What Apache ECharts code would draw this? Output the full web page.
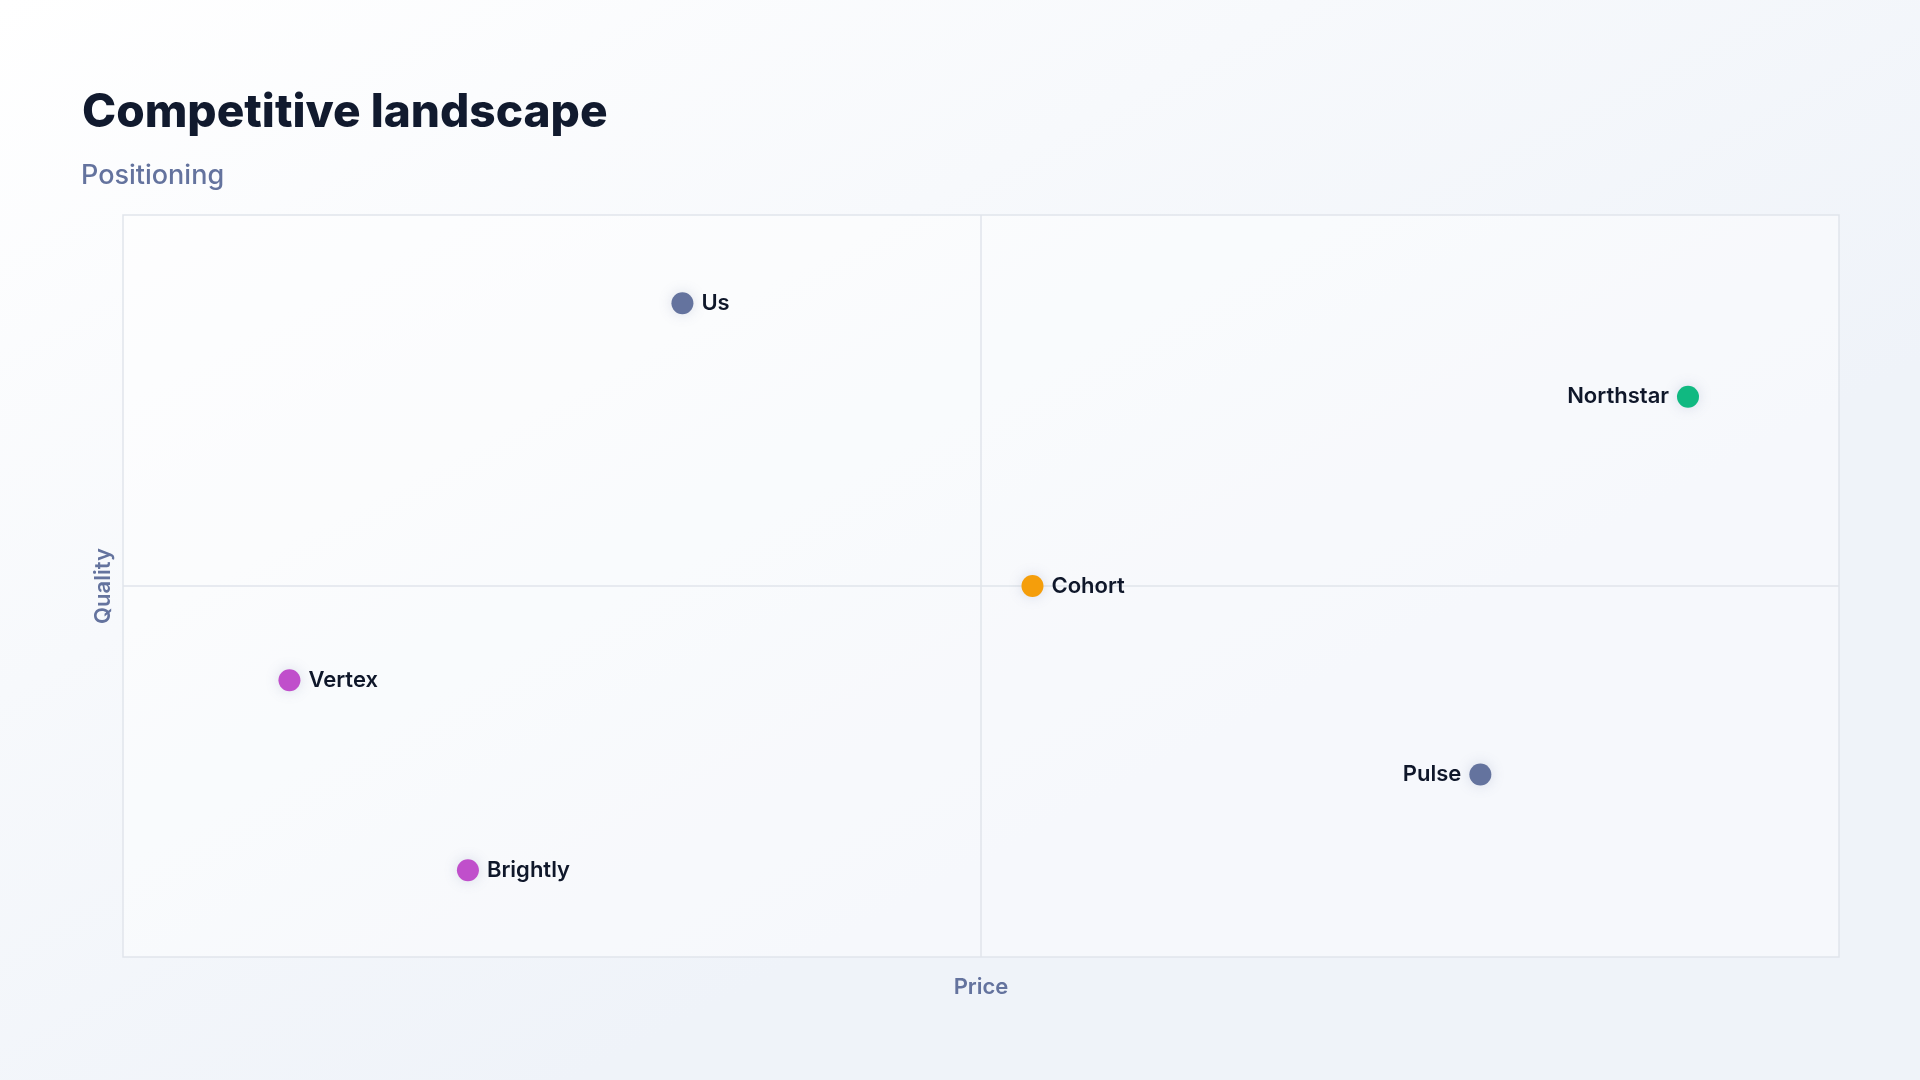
<!DOCTYPE html>
<html>
<head>
<meta charset="utf-8">
<script src="https://cdn.jsdelivr.net/npm/echarts@6/dist/echarts.min.js"></script>
<style>
html,body{margin:0;padding:0;width:1920px;height:1080px;overflow:hidden;}
#chart{width:1920px;height:1080px;}
</style>
</head>
<body>
<div id="chart"></div>
<script>
// ---- data ----
const names = ["Us", "Northstar", "Cohort", "Vertex", "Brightly", "Pulse"];
const price = [32.6, 91.2, 53.0, 9.7, 20.1, 79.1];
const quality = [88.1, 75.5, 50.0, 37.3, 11.7, 24.6];
const groups = ["us", "leader", "mid", "value", "value", "premium"];

// ---- styles ----
const groupColors = { us: "#64739e", leader: "#10b981", mid: "#f59e0b", value: "#c04fcb", premium: "#64739e" };
const leftLabelled = ["Northstar", "Pulse"];
const FONT = "Inter, 'Noto Sans', sans-serif";

const chart = echarts.init(document.getElementById('chart'));

const points = names.map((n, i) => ({
  name: n,
  value: [price[i], quality[i]],
  itemStyle: { color: groupColors[groups[i]] },
  label: { position: leftLabelled.includes(n) ? 'left' : 'right' }
}));

chart.setOption({
  backgroundColor: {
    type: 'linear', x: 0, y: 0, x2: 0.3, y2: 1,
    colorStops: [{ offset: 0, color: '#ffffff' }, { offset: 1, color: '#eff3f9' }]
  },
  title: [
    { text: 'Competitive landscape', left: 77, top: 85,
      textStyle: { fontFamily: FONT, fontSize: 46, fontWeight: 800, color: '#111a2e' } },
    { text: 'Positioning', left: 76, top: 157,
      textStyle: { fontFamily: FONT, fontSize: 27, fontWeight: 500, color: '#64739e' } }
  ],
  grid: {
    left: 123, right: 81, top: 215, bottom: 123,
    show: true, backgroundColor: 'rgba(255,255,255,0.45)',
    borderColor: '#e1e5eb', borderWidth: 1.5
  },
  xAxis: {
    type: 'value', min: 0, max: 100,
    name: 'Price', nameLocation: 'middle', nameGap: 19,
    nameTextStyle: { fontFamily: FONT, fontSize: 22, fontWeight: 600, color: '#64739e' },
    axisLine: { show: false }, axisTick: { show: false }, axisLabel: { show: false }, splitLine: { show: false }
  },
  yAxis: {
    type: 'value', min: 0, max: 100,
    name: 'Quality', nameLocation: 'middle', nameGap: 9,
    nameTextStyle: { fontFamily: FONT, fontSize: 22, fontWeight: 600, color: '#64739e' },
    axisLine: { show: false }, axisTick: { show: false }, axisLabel: { show: false }, splitLine: { show: false }
  },
  series: [{
    type: 'scatter',
    data: [],
    silent: true,
    z: 1,
    markLine: {
      silent: true, symbol: 'none', label: { show: false }, z: 1,
      lineStyle: { color: '#e1e5eb', width: 1.5, type: 'solid' },
      data: [{ xAxis: 50 }, { yAxis: 50 }]
    }
  }, {
    type: 'scatter',
    symbolSize: 22,
    data: points,
    itemStyle: { opacity: 1, shadowBlur: 14, shadowColor: 'rgba(100,116,160,0.22)' },
    label: {
      show: true, formatter: '{b}', distance: 8,
      fontFamily: FONT, fontSize: 22, fontWeight: 600, color: '#0f172a'
    },
    z: 5
  }]
});
</script>
</body>
</html>
